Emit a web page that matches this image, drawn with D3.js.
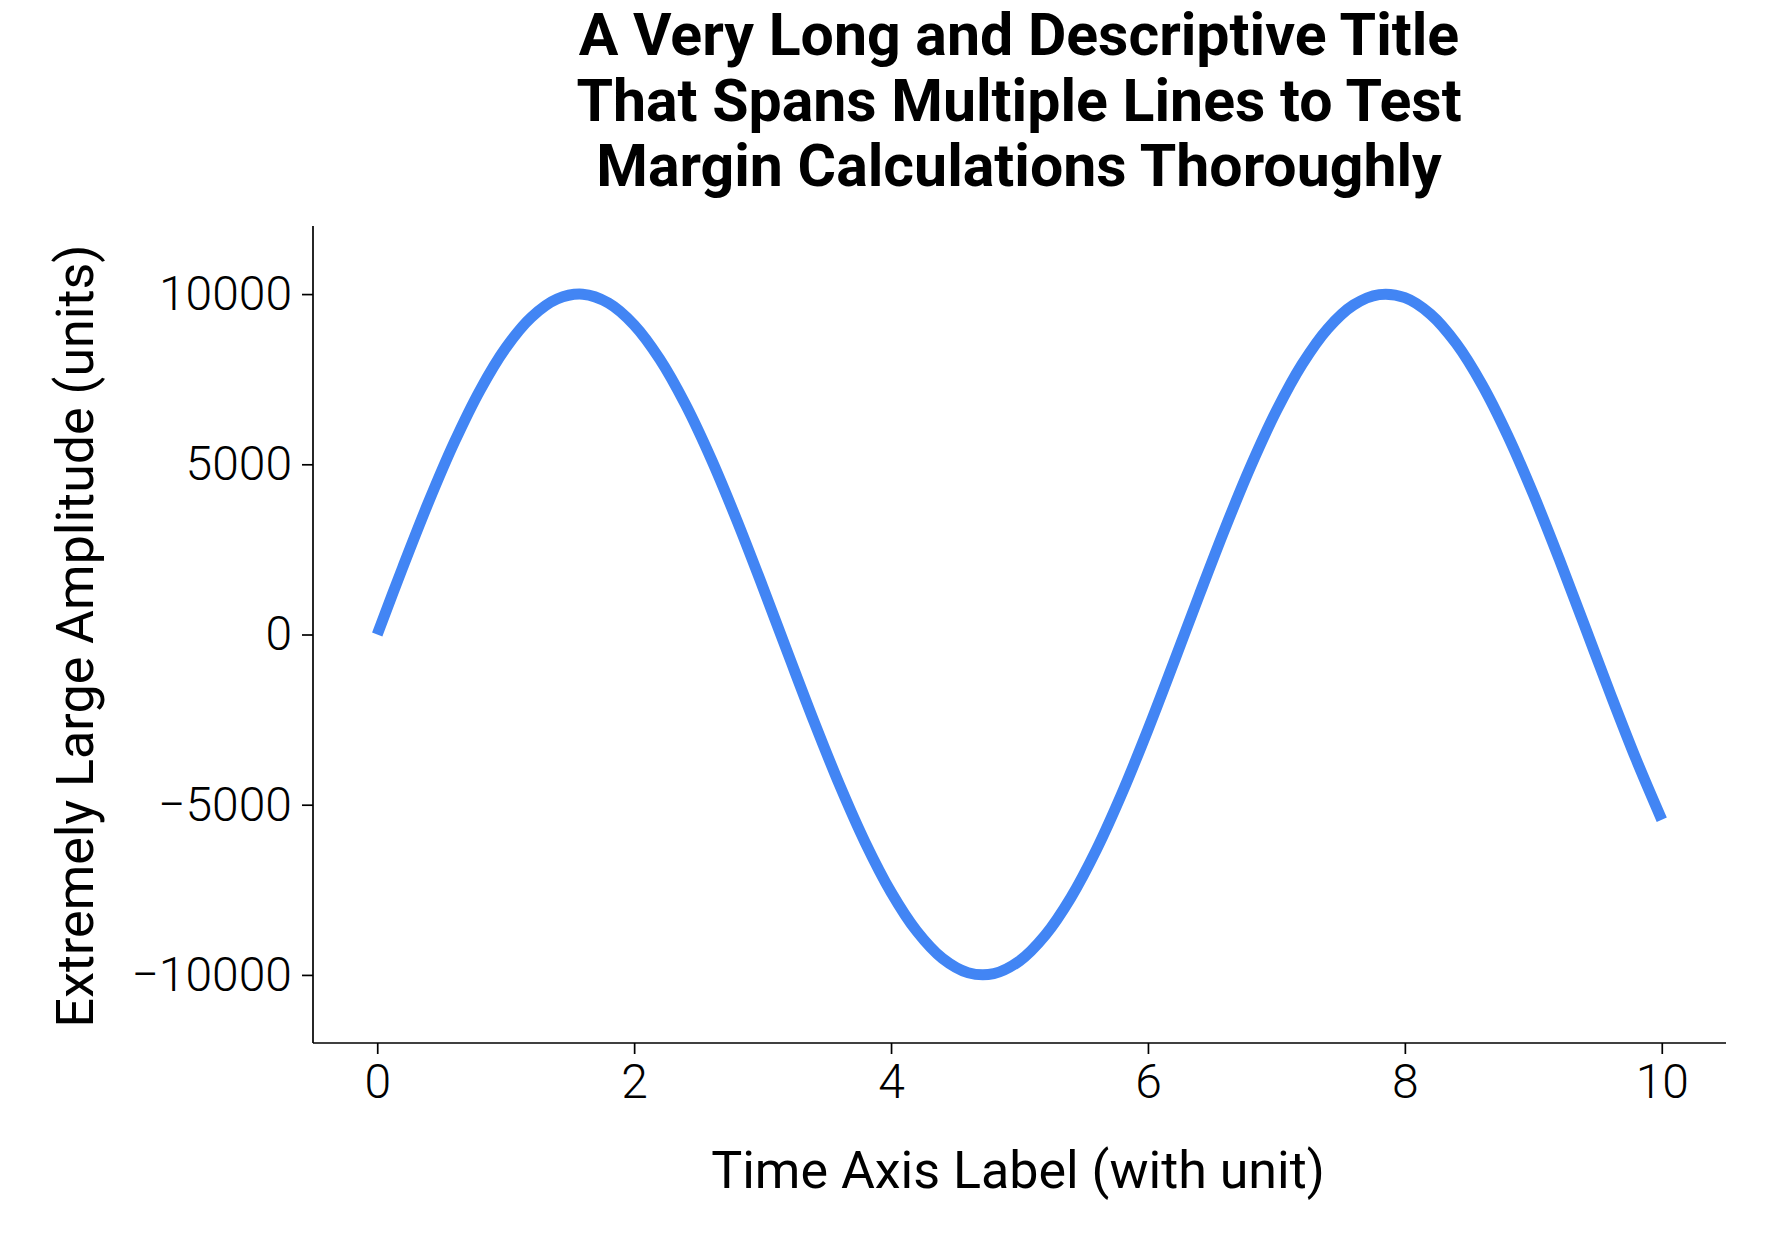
<!DOCTYPE html>
<html><head><meta charset="utf-8">
<script src="https://cdn.jsdelivr.net/npm/d3@7"></script>
<style>body{margin:0;background:#fff}svg{font-family:Roboto,sans-serif}</style>
</head><body><svg id="c" width="1771" height="1240"></svg>
<script>
const xValues=[0,0.2,0.4,0.6,0.8,1.0,1.2,1.4,1.6,1.8,2.0,2.2,2.4,2.6,2.8,3.0,3.2,3.4,3.6,3.8,4.0,4.2,4.4,4.6,4.8,5.0,5.2,5.4,5.6,5.8,6.0,6.2,6.4,6.6,6.8,7.0,7.2,7.4,7.6,7.8,8.0,8.2,8.4,8.6,8.8,9.0,9.2,9.4,9.6,9.8,10.0];
const yValues=[0,1987,3894,5646,7174,8415,9320,9854,9996,9738,9093,8085,6755,5155,3350,1411,-584,-2555,-4425,-6119,-7568,-8716,-9516,-9937,-9962,-9589,-8835,-7728,-6313,-4646,-2794,-831,1165,3115,4941,6570,7937,8987,9679,9985,9894,9407,8546,7344,5849,4121,2229,249,-1743,-3665,-5440];
const xTicks=[0,2,4,6,8,10];
const yTicks=[-10000,-5000,0,5000,10000];
const titleLines=["A Very Long and Descriptive Title","That Spans Multiple Lines to Test","Margin Calculations Thoroughly"];

const svg=d3.select("#c");
const L=313,R=1726,T=226,B=1043;
const x=d3.scaleLinear().domain([-0.5,10.5]).range([L,R]);
const y=d3.scaleLinear().domain([-12000,12000]).range([B,T]);
const fmt=d=>String(d).replace("-","\u2212");
const gx=svg.append("g").attr("transform",`translate(0,${B})`).call(d3.axisBottom(x).tickValues(xTicks).tickSize(11).tickPadding(10).tickFormat(fmt));
const gy=svg.append("g").attr("transform",`translate(${L},0)`).call(d3.axisLeft(y).tickValues(yTicks).tickSize(11).tickPadding(10).tickFormat(fmt));
[gx,gy].forEach(g=>{g.selectAll("path.domain").attr("stroke","#000").attr("stroke-width",1.7).attr("d",g===gx?`M${L},0H${R}`:`M0,${T}V${B}`);
 g.selectAll(".tick line").attr("stroke","#000").attr("stroke-width",1.7);
 g.selectAll(".tick text").attr("font-size",48).attr("font-weight",300).attr("fill","#000").attr("font-family","Roboto");});
svg.append("path").datum(xValues.map((v,i)=>[v,yValues[i]]))
 .attr("fill","none").attr("stroke","#4285f4").attr("stroke-width",11)
 .attr("d",d3.line().x(d=>x(d[0])).y(d=>y(d[1])).curve(d3.curveCatmullRom));
svg.append("text").attr("x",1018).attr("y",1188).attr("text-anchor","middle").attr("font-size",52).text("Time Axis Label (with unit)");
svg.append("text").attr("transform",`translate(93,636) rotate(-90)`).attr("text-anchor","middle").attr("font-size",52).text("Extremely Large Amplitude (units)");
titleLines.forEach((t,i)=>svg.append("text").attr("x",1019).attr("y",55+i*65.5).attr("text-anchor","middle").attr("font-size",59).attr("font-weight",700).text(t));
</script></body></html>
